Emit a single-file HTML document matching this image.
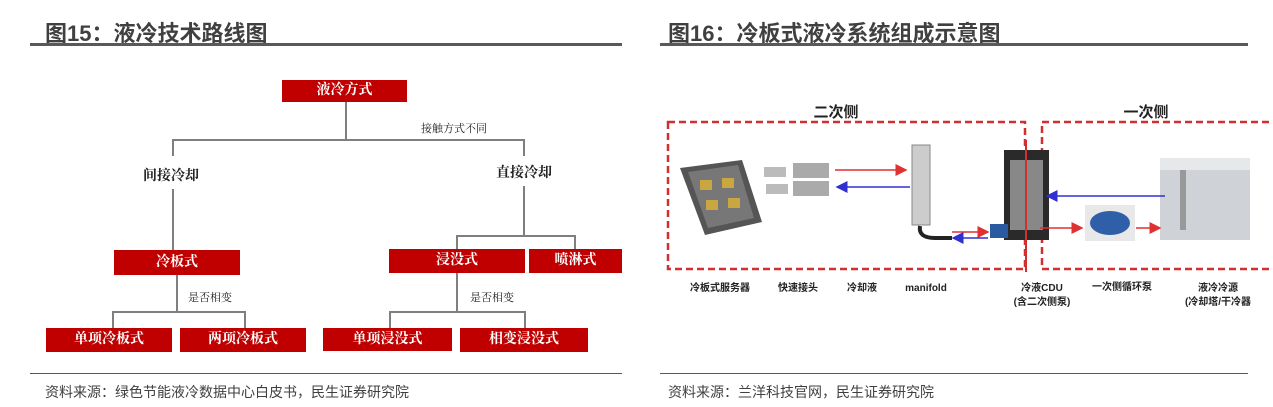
<!DOCTYPE html>
<html><head><meta charset="utf-8"><style>
body{margin:0;width:1273px;height:407px;background:#fff;position:relative;overflow:hidden;font-family:"Liberation Sans","Noto Sans CJK SC",sans-serif;}
.a{position:absolute;}
.t{font-weight:bold;font-size:22px;color:#404040;top:16px;}
.hl{background:#595959;height:3px;top:43px;}
.fl{background:#595959;height:1px;top:373px;}
.src{font-size:14px;color:#404040;top:382px;}
.box{position:absolute;background:#c00000;color:#fff;font-weight:bold;font-size:14px;text-align:center;font-family:"Liberation Serif","Noto Serif CJK SC",serif;}
.ln{position:absolute;background:#7f7f7f;}
.lb{position:absolute;font-weight:bold;font-size:14px;color:#222;font-family:"Liberation Serif","Noto Serif CJK SC",serif;}
.sm{position:absolute;font-size:11px;color:#222;font-family:"Liberation Serif","Noto Serif CJK SC",serif;}
</style></head><body>
<div class="a t" style="left:45px">图15：液冷技术路线图</div>
<div class="a hl" style="left:30px;width:592px"></div>
<div class="a t" style="left:668px">图16：冷板式液冷系统组成示意图</div>
<div class="a hl" style="left:660px;width:588px"></div>

<!-- left tree -->
<div class="box" style="left:282px;top:80px;width:125px;height:22px;line-height:22px">液冷方式</div>
<div class="ln" style="left:345px;top:102px;width:2px;height:39px"></div>
<div class="ln" style="left:173px;top:139px;width:352px;height:2px"></div>
<div class="ln" style="left:172px;top:139px;width:2px;height:17px"></div>
<div class="ln" style="left:523px;top:139px;width:2px;height:17px"></div>
<div class="sm" style="left:421px;top:120px">接触方式不同</div>
<div class="lb" style="left:143px;top:165px">间接冷却</div>
<div class="lb" style="left:496px;top:162px">直接冷却</div>
<div class="ln" style="left:172px;top:189px;width:2px;height:61px"></div>
<div class="ln" style="left:523px;top:186px;width:2px;height:50px"></div>
<div class="ln" style="left:456px;top:235px;width:120px;height:2px"></div>
<div class="ln" style="left:456px;top:235px;width:2px;height:14px"></div>
<div class="ln" style="left:574px;top:235px;width:2px;height:14px"></div>
<div class="box" style="left:114px;top:250px;width:126px;height:25px;line-height:25px">冷板式</div>
<div class="box" style="left:389px;top:249px;width:136px;height:24px;line-height:24px">浸没式</div>
<div class="box" style="left:529px;top:249px;width:93px;height:24px;line-height:24px">喷淋式</div>
<div class="ln" style="left:176px;top:275px;width:2px;height:38px"></div>
<div class="ln" style="left:112px;top:311px;width:134px;height:2px"></div>
<div class="ln" style="left:112px;top:311px;width:2px;height:17px"></div>
<div class="ln" style="left:244px;top:311px;width:2px;height:17px"></div>
<div class="sm" style="left:188px;top:289px">是否相变</div>
<div class="ln" style="left:456px;top:273px;width:2px;height:40px"></div>
<div class="ln" style="left:389px;top:311px;width:137px;height:2px"></div>
<div class="ln" style="left:389px;top:311px;width:2px;height:17px"></div>
<div class="ln" style="left:524px;top:311px;width:2px;height:17px"></div>
<div class="sm" style="left:470px;top:289px">是否相变</div>
<div class="box" style="left:46px;top:328px;width:126px;height:24px;line-height:24px">单项冷板式</div>
<div class="box" style="left:180px;top:328px;width:126px;height:24px;line-height:24px">两项冷板式</div>
<div class="box" style="left:323px;top:328px;width:129px;height:23px;line-height:23px">单项浸没式</div>
<div class="box" style="left:460px;top:328px;width:128px;height:24px;line-height:24px">相变浸没式</div>

<div class="a fl" style="left:30px;width:592px"></div>
<div class="a src" style="left:45px">资料来源：绿色节能液冷数据中心白皮书，民生证券研究院</div>
<div class="a fl" style="left:660px;width:588px"></div>
<div class="a src" style="left:668px">资料来源：兰洋科技官网，民生证券研究院</div>

<!-- right diagram -->
<svg class="a" style="left:0;top:0" width="1273" height="407">
<defs>
<marker id="r" markerWidth="8" markerHeight="8" refX="7" refY="4" orient="auto"><path d="M0,0 L8,4 L0,8z" fill="#e03030"/></marker>
<marker id="b" markerWidth="8" markerHeight="8" refX="7" refY="4" orient="auto"><path d="M0,0 L8,4 L0,8z" fill="#3030d0"/></marker>
</defs>
<rect x="668" y="122" width="357" height="147" fill="none" stroke="#d03030" stroke-width="2.5" stroke-dasharray="7,4"/>
<path d="M1280,122 L1042,122 L1042,269 L1280,269" fill="none" stroke="#d03030" stroke-width="2.5" stroke-dasharray="7,4"/>
<text x="836" y="117" font-size="15" font-weight="bold" text-anchor="middle" fill="#222" font-family="Liberation Sans,Noto Sans CJK SC,sans-serif">二次侧</text>
<text x="1146" y="117" font-size="15" font-weight="bold" text-anchor="middle" fill="#222" font-family="Liberation Sans,Noto Sans CJK SC,sans-serif">一次侧</text>
<!-- server -->
<polygon points="680,168 742,160 762,222 705,235" fill="#555"/>
<polygon points="688,172 738,165 754,218 708,228" fill="#777"/>
<rect x="700" y="180" width="12" height="10" fill="#c9a640"/><rect x="722" y="178" width="12" height="10" fill="#c9a640"/>
<rect x="706" y="200" width="12" height="10" fill="#c9a640"/><rect x="728" y="198" width="12" height="10" fill="#c9a640"/>
<!-- connectors -->
<rect x="764" y="167" width="22" height="10" fill="#bbb"/><rect x="766" y="184" width="22" height="10" fill="#bbb"/>
<rect x="793" y="163" width="36" height="15" fill="#aaa"/><rect x="793" y="181" width="36" height="15" fill="#aaa"/>
<!-- manifold -->
<rect x="912" y="145" width="18" height="80" fill="#ccc" stroke="#888"/>
<path d="M920,226 Q918,238 935,238 L952,238" stroke="#222" stroke-width="4" fill="none"/>
<!-- CDU -->
<rect x="1004" y="150" width="45" height="90" fill="#2a2a2a"/>
<rect x="1010" y="160" width="33" height="70" fill="#888"/>
<rect x="990" y="224" width="18" height="14" fill="#2a5aa0"/>
<!-- pump -->
<rect x="1085" y="205" width="50" height="36" fill="#e8e8e8"/>
<ellipse cx="1110" cy="223" rx="20" ry="12" fill="#2f5fa8"/>
<!-- tower -->
<rect x="1160" y="158" width="90" height="82" fill="#cfd2d6"/>
<rect x="1160" y="158" width="90" height="12" fill="#e6e8ea"/>
<rect x="1180" y="170" width="6" height="60" fill="#999"/>
<!-- arrows -->
<line x1="835" y1="170" x2="906" y2="170" stroke="#e03030" stroke-width="1.5" marker-end="url(#r)"/>
<line x1="910" y1="187" x2="837" y2="187" stroke="#3030d0" stroke-width="1.5" marker-end="url(#b)"/>
<line x1="952" y1="232" x2="988" y2="232" stroke="#e03030" stroke-width="1.5" marker-end="url(#r)"/>
<line x1="988" y1="238" x2="953" y2="238" stroke="#3030d0" stroke-width="1.5" marker-end="url(#b)"/>
<line x1="1165" y1="196" x2="1047" y2="196" stroke="#3030d0" stroke-width="1.5" marker-end="url(#b)"/>
<line x1="1040" y1="228" x2="1082" y2="228" stroke="#e03030" stroke-width="1.5" marker-end="url(#r)"/>
<line x1="1136" y1="228" x2="1160" y2="228" stroke="#e03030" stroke-width="1.5" marker-end="url(#r)"/>
<line x1="1026" y1="140" x2="1026" y2="272" stroke="#d03030" stroke-width="2"/>
<g font-size="10" font-weight="bold" fill="#222" text-anchor="middle" font-family="Liberation Sans,Noto Sans CJK SC,sans-serif">
<text x="720" y="291">冷板式服务器</text>
<text x="798" y="291">快速接头</text>
<text x="862" y="291">冷却液</text>
<text x="926" y="291">manifold</text>
<text x="1042" y="291">冷液CDU</text>
<text x="1042" y="305">(含二次侧泵)</text>
<text x="1122" y="290">一次侧循环泵</text>
<text x="1218" y="291">液冷冷源</text>
<text x="1218" y="305">(冷却塔/干冷器</text>
</g>
</svg>
</body></html>
